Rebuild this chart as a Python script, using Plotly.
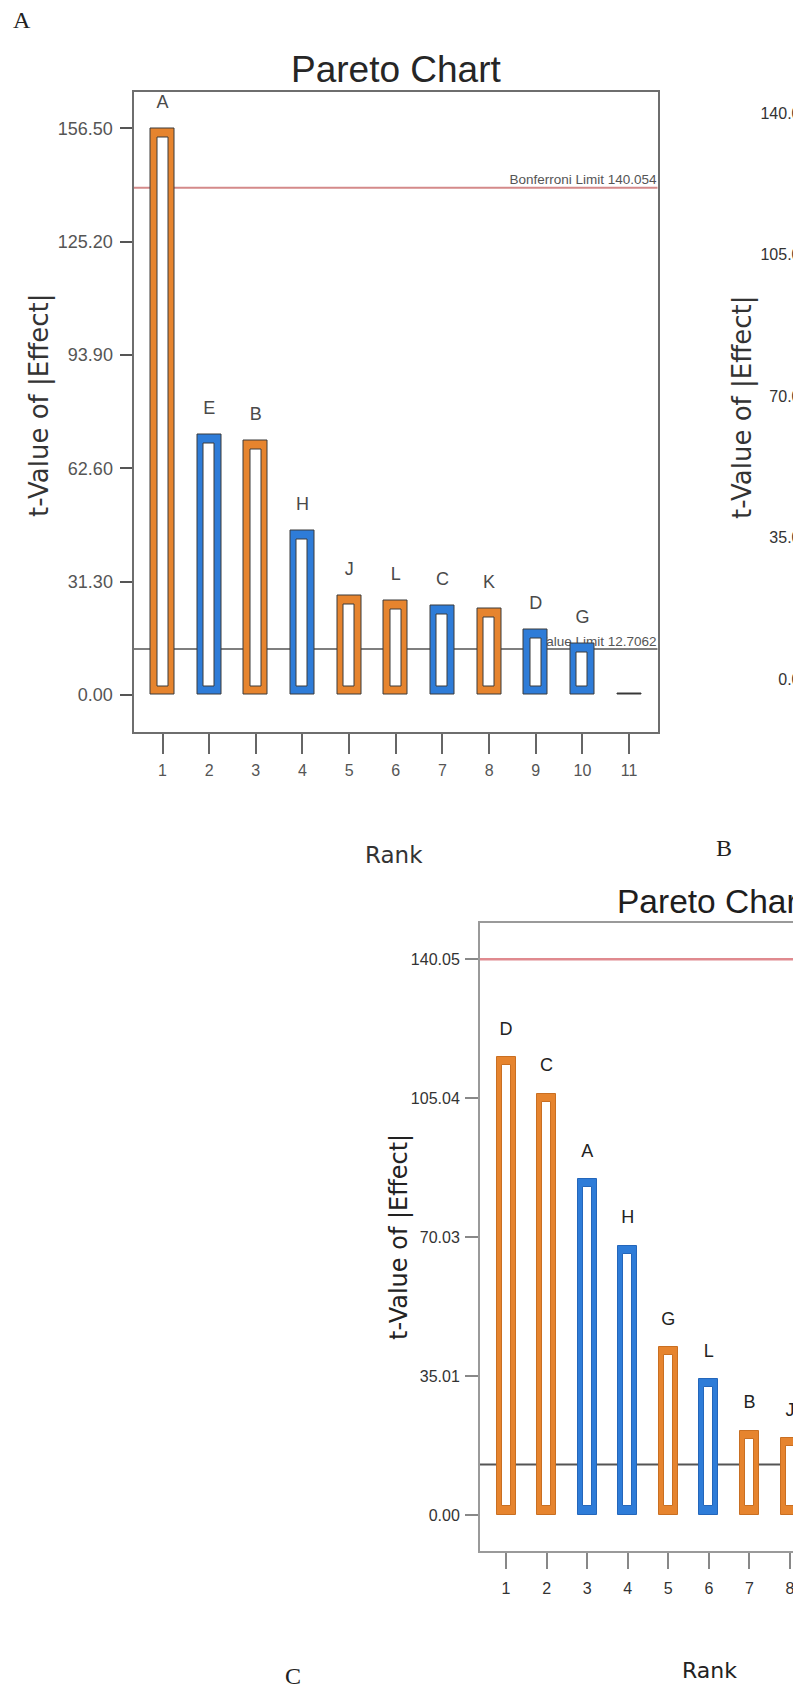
import plotly.graph_objects as go

W, H = 793, 1686

# ---------------- data ----------------
# Panel A (full chart)
A_rank = list(range(1, 12))
A_term = ["A", "E", "B", "H", "J", "L", "C", "K", "D", "G", ""]
A_tval = [156.5, 72.0, 70.2, 45.5, 27.6, 26.0, 24.6, 23.8, 18.2, 14.3, 0.3]
A_sign = ["+", "-", "+", "-", "+", "+", "-", "+", "-", "-", "0"]
A_yticks = [0.00, 31.30, 62.60, 93.90, 125.20, 156.50]
A_bonf = 140.054
A_tlim = 12.7062

# Panel B (bottom, cut at right edge)
B_rank = list(range(1, 9))
B_term = ["D", "C", "A", "H", "G", "L", "B", "J"]
B_tval = [115.3, 106.1, 84.6, 67.8, 42.3, 34.2, 21.2, 19.3]
B_sign = ["+", "+", "-", "-", "+", "-", "+", "+"]
B_yticks = [0.00, 35.01, 70.03, 105.04, 140.05]
B_bonf = 140.05
B_tlim = 12.7062

# Panel at top right (only its y-axis is visible)
R_yticks = [0.00, 35.01, 70.03, 105.04, 140.05]

# ---------------- styling ----------------
FILL = {"+": "#E6842E", "-": "#2E7CD8", "0": "#333333"}
EDGE_B = {"+": "#C96F22", "-": "#2466BA", "0": "#333333"}
SANS = "Liberation Sans, Arial, sans-serif"
WIDE = "DejaVu Sans, sans-serif"
SERIF = "Liberation Serif, Times New Roman, serif"


def px(x):
    return x / W


def py(y):
    return 1 - y / H


# pixel geometry of the panels
A_xr = [0.378, 11.61]
A_yr = [-10.14, 166.67]
A_ux = (657.5 - 133.5) / (A_xr[1] - A_xr[0])
A_uy = (731.7 - 91.5) / (A_yr[1] - A_yr[0])

B_xr = [0.359, 8.074]
B_yr = [-9.07, 149.19]
B_ux = (793 - 480) / (B_xr[1] - B_xr[0])
B_uy = (1551 - 923) / (B_yr[1] - B_yr[0])

R_yr = [-13.04, 145.38]

fig = go.Figure()


def hollow(ranks, vals, signs, xa, ya, ux, uy, outer_px, inner_px, bot_px, top_px, edge):
    fills = [FILL[s] for s in signs]
    edges = [edge[s] if isinstance(edge, dict) else edge for s in signs]
    fig.add_trace(go.Bar(
        x=ranks, y=vals, width=outer_px / ux,
        marker=dict(color=fills, line=dict(color=edges, width=1)),
        xaxis=xa, yaxis=ya, showlegend=False, hoverinfo="skip"))
    base = bot_px / uy
    top = top_px / uy
    inner = [v - base - top if v - base - top > 0 else None for v in vals]
    fig.add_trace(go.Bar(
        x=ranks, y=inner, base=base, width=inner_px / ux,
        marker=dict(color="white", line=dict(color=edges, width=1)),
        xaxis=xa, yaxis=ya, showlegend=False, hoverinfo="skip"))


# ---- Panel A: limit labels on base subplot (drawn under the bars)
fig.add_trace(go.Scatter(
    x=[A_xr[1] - 0.02, A_xr[1] - 0.02], y=[A_bonf, A_tlim],
    text=["Bonferroni Limit 140.054", "t-Value Limit 12.7062"],
    mode="text", textposition="top left",
    textfont=dict(family=SANS, size=13.5, color="#555555"),
    xaxis="x", yaxis="y", showlegend=False, cliponaxis=False, hoverinfo="skip"))

# ---- Panel A bars on overlay axis (above lines and labels)
hollow(A_rank, A_tval, A_sign, "x", "y5", A_ux, A_uy, 24, 11, 8, 9, "#3a3a3a")
fig.add_trace(go.Scatter(
    x=A_rank, y=[v + 25 / A_uy for v in A_tval], text=A_term, mode="text",
    textposition="middle center",
    textfont=dict(family=SANS, size=18, color="#4a4a4a"),
    xaxis="x", yaxis="y5", showlegend=False, cliponaxis=False, hoverinfo="skip"))

# ---- Panel B bars
hollow(B_rank, B_tval, B_sign, "x2", "y2", B_ux, B_uy, 19, 9, 9, 8, EDGE_B)
fig.add_trace(go.Scatter(
    x=B_rank, y=[v + 27 / B_uy for v in B_tval], text=B_term, mode="text",
    textposition="middle center",
    textfont=dict(family=SANS, size=18, color="#222222"),
    xaxis="x2", yaxis="y2", showlegend=False, cliponaxis=False, hoverinfo="skip"))

# ---- Panel R (top right), axis only
fig.add_trace(go.Scatter(x=[], y=[], xaxis="x3", yaxis="y3", showlegend=False))

shapes = [
    dict(type="line", xref="x domain", x0=0, x1=1, yref="y", y0=A_bonf, y1=A_bonf,
         line=dict(color="#D48A8A", width=2), layer="below"),
    dict(type="line", xref="x domain", x0=0, x1=1, yref="y", y0=A_tlim, y1=A_tlim,
         line=dict(color="#555555", width=1.5), layer="below"),
    dict(type="line", xref="x2 domain", x0=0, x1=1, yref="y2", y0=B_bonf, y1=B_bonf,
         line=dict(color="#E08A8F", width=2.5), layer="below"),
    dict(type="line", xref="x2 domain", x0=0, x1=1, yref="y2", y0=B_tlim, y1=B_tlim,
         line=dict(color="#555555", width=2), layer="below"),
]


def ann(text, x, y, size, family=SANS, color="#222222", angle=0):
    return dict(text=text, x=px(x), y=py(y), xref="paper", yref="paper",
                showarrow=False, xanchor="center", yanchor="middle",
                textangle=angle, font=dict(family=family, size=size, color=color))


annotations = [
    ann("A", 22, 20, 24, SERIF),
    ann("B", 724, 848, 24, SERIF),
    ann("C", 293, 1676, 24, SERIF),
    ann("Pareto Chart", 396, 70, 37, SANS, "#262626"),
    ann("Pareto Chart", 712, 901, 33.5, SANS, "#1e1e1e"),
    ann("t-Value of |Effect|", 39, 406, 26, WIDE, "#333333", -90),
    ann("t-Value of |Effect|", 399, 1237, 24, WIDE, "#222222", -90),
    ann("t-Value of |Effect|", 742, 408, 26, WIDE, "#333333", -90),
    ann("Rank", 394, 855, 23, WIDE, "#333333"),
    ann("Rank", 709, 1670, 22, WIDE, "#222222"),
]

common = dict(showgrid=False, zeroline=False, automargin=False, fixedrange=True)

fig.update_layout(
    width=W, height=H, margin=dict(l=0, r=0, t=0, b=0, pad=0),
    template="none", paper_bgcolor="white", plot_bgcolor="white",
    barmode="overlay", bargap=0, showlegend=False,
    font=dict(family=SANS),
    xaxis=dict(domain=[px(133.5), px(657.5)], range=A_xr, anchor="y",
               tickvals=A_rank, ticks="outside", ticklen=20, tickwidth=1.5,
               tickcolor="#666666", showline=True, linecolor="#6e6e6e", linewidth=2,
               mirror=True, tickfont=dict(family=SANS, size=16, color="#555555"),
               ticklabelstandoff=3, **common),
    yaxis=dict(domain=[py(731.7), py(91.5)], range=A_yr, anchor="x",
               tickvals=A_yticks, ticktext=[f"{v:.2f}" for v in A_yticks],
               ticks="outside", ticklen=12, tickwidth=1.5, tickcolor="#555555",
               showline=True, linecolor="#6e6e6e", linewidth=2, mirror=True,
               tickfont=dict(family=SANS, size=18, color="#555555"),
               ticklabelstandoff=3, **common),
    yaxis5=dict(overlaying="y", range=A_yr, anchor="x", visible=False, **common),
    xaxis2=dict(domain=[px(480), 1.0], range=B_xr, anchor="y2",
                tickvals=B_rank, ticks="outside", ticklen=16, tickwidth=1.5,
                tickcolor="#888888", showline=True, linecolor="#9a9a9a", linewidth=2,
                mirror=True, tickfont=dict(family=SANS, size=16, color="#333333"),
                ticklabelstandoff=6, ticklabeloverflow="allow", **common),
    yaxis2=dict(domain=[py(1551), py(923)], range=B_yr, anchor="x2",
                tickvals=B_yticks, ticktext=[f"{v:.2f}" for v in B_yticks],
                ticks="outside", ticklen=13, tickwidth=1.5, tickcolor="#888888",
                showline=True, linecolor="#9a9a9a", linewidth=2, mirror=False,
                tickfont=dict(family=SANS, size=16, color="#333333"),
                ticklabelstandoff=2, **common),
    xaxis3=dict(domain=[0.998, 1.0], range=[0, 1], anchor="y3", visible=False, **common),
    yaxis3=dict(domain=[py(731.7), py(91.5)], range=R_yr, anchor="x3",
                tickvals=R_yticks, ticktext=[f"{v:.2f}" for v in R_yticks],
                ticks="", showline=False, ticklabeloverflow="allow",
                tickfont=dict(family=SANS, size=16, color="#333333"),
                ticklabelstandoff=-19, **common),
    shapes=shapes, annotations=annotations,
)

fig.write_html("out.html")
